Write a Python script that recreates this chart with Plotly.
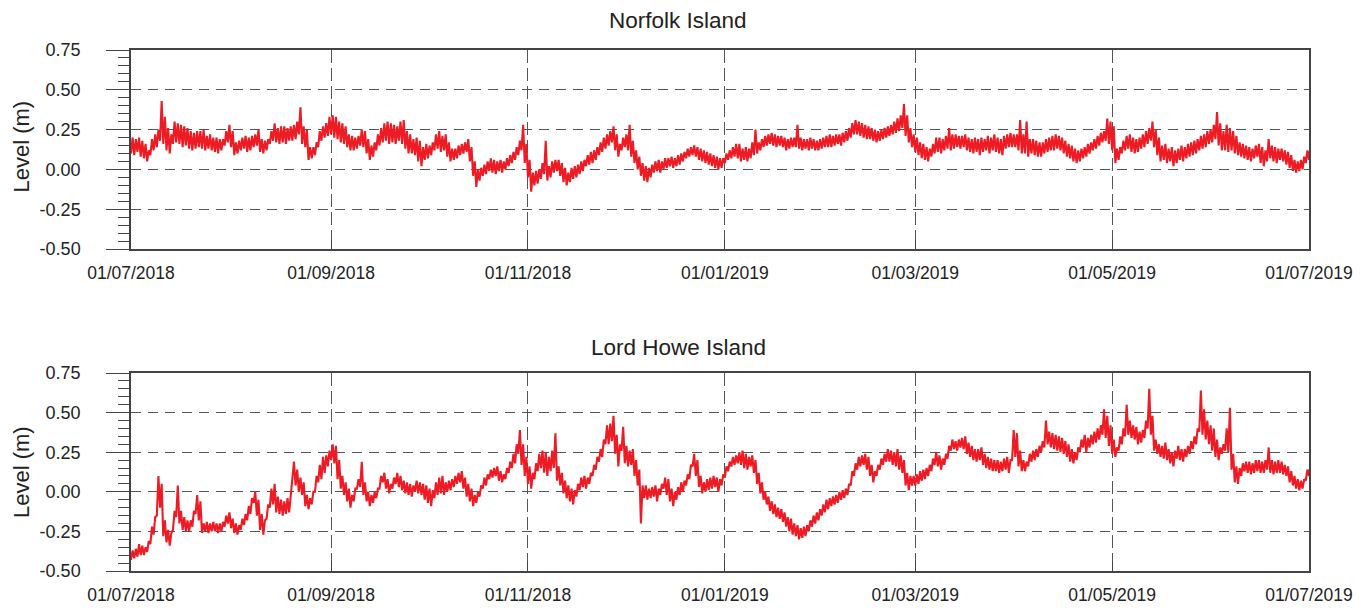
import pandas as pd
import plotly.graph_objects as go

# Daily sea-level residual envelopes (m), one low and one high reading per day,
# day 0 = 01/07/2018 ... day 365 = 01/07/2019.
norfolk_lo = [
    # Jul 2018
    0.10, 0.09, 0.11, 0.08, 0.07, 0.05, 0.09, 0.12, 0.14, 0.18, 0.16, 0.12, 0.10, 0.16, 0.17, 0.16,
    0.14, 0.15, 0.13, 0.12, 0.13, 0.14, 0.13, 0.12, 0.13, 0.12, 0.11, 0.10, 0.12, 0.15, 0.17,
    # Aug 2018
    0.14, 0.09, 0.10, 0.12, 0.13, 0.11, 0.12, 0.14, 0.15, 0.11, 0.10, 0.12, 0.16, 0.18, 0.17, 0.16,
    0.17, 0.16, 0.18, 0.18, 0.19, 0.22, 0.16, 0.14, 0.06, 0.07, 0.09, 0.14, 0.18, 0.20, 0.21,
    # Sep 2018
    0.22, 0.20, 0.19, 0.17, 0.16, 0.14, 0.12, 0.12, 0.13, 0.15, 0.14, 0.10, 0.06, 0.08, 0.12,
    0.15, 0.17, 0.18, 0.16, 0.17, 0.16, 0.18, 0.16, 0.13, 0.10, 0.10, 0.09, 0.05, 0.02, 0.06,
    # Oct 2018
    0.07, 0.09, 0.12, 0.13, 0.11, 0.12, 0.08, 0.05, 0.06, 0.07, 0.09, 0.10, 0.11, 0.05, -0.04, -0.11,
    -0.07, -0.04, -0.03, -0.01, -0.02, -0.03, -0.01, -0.02, 0.00, 0.02, 0.04, 0.06, 0.09, 0.12, 0.04,
    # Nov 2018
    -0.05, -0.14, -0.10, -0.09, -0.06, -0.03, -0.07, -0.05, -0.02, -0.01, -0.04, -0.08, -0.10, -0.08, -0.06,
    -0.05, -0.03, -0.01, 0.02, 0.03, 0.04, 0.06, 0.09, 0.11, 0.13, 0.15, 0.17, 0.12, 0.08, 0.12,
    # Dec 2018
    0.14, 0.12, 0.08, 0.04, 0.00, -0.04, -0.07, -0.08, -0.05, -0.02, -0.01, -0.02, 0.00, 0.01, 0.02, 0.01,
    0.02, 0.03, 0.05, 0.07, 0.08, 0.09, 0.08, 0.06, 0.05, 0.04, 0.03, 0.02, 0.01, 0.00, 0.01,
    # Jan 2019
    0.04, 0.06, 0.07, 0.08, 0.07, 0.05, 0.06, 0.05, 0.07, 0.09, 0.10, 0.12, 0.14, 0.15, 0.16, 0.15,
    0.14, 0.15, 0.14, 0.12, 0.13, 0.14, 0.14, 0.13, 0.12, 0.13, 0.12, 0.13, 0.12, 0.12, 0.13,
    # Feb 2019
    0.14, 0.14, 0.14, 0.15, 0.16, 0.15, 0.17, 0.18, 0.20, 0.22, 0.22, 0.21, 0.20, 0.19,
    0.19, 0.18, 0.17, 0.18, 0.19, 0.20, 0.21, 0.22, 0.23, 0.24, 0.26, 0.21, 0.17, 0.14,
    # Mar 2019
    0.11, 0.09, 0.07, 0.06, 0.05, 0.08, 0.10, 0.11, 0.10, 0.12, 0.13, 0.12, 0.13, 0.14, 0.13, 0.14,
    0.12, 0.11, 0.10, 0.11, 0.09, 0.11, 0.12, 0.10, 0.12, 0.11, 0.10, 0.09, 0.13, 0.14, 0.14,
    # Apr 2019
    0.14, 0.12, 0.10, 0.10, 0.08, 0.10, 0.09, 0.08, 0.08, 0.10, 0.11, 0.12, 0.12, 0.13, 0.12,
    0.10, 0.08, 0.07, 0.05, 0.04, 0.05, 0.07, 0.08, 0.10, 0.12, 0.13, 0.15, 0.17, 0.18, 0.16,
    # May 2019
    0.12, 0.04, 0.06, 0.10, 0.12, 0.13, 0.11, 0.10, 0.11, 0.13, 0.14, 0.16, 0.18, 0.14, 0.09, 0.05,
    0.06, 0.04, 0.05, 0.02, 0.04, 0.06, 0.05, 0.07, 0.08, 0.09, 0.10, 0.12, 0.13, 0.14, 0.16,
    # Jun 2019
    0.17, 0.19, 0.15, 0.12, 0.12, 0.11, 0.12, 0.10, 0.09, 0.08, 0.07, 0.06, 0.05, 0.07, 0.08,
    0.04, 0.02, 0.05, 0.07, 0.05, 0.04, 0.06, 0.05, 0.03, 0.01, -0.01, -0.02, -0.01, 0.00, 0.04,
    # 01/07/2019
    0.06,
]
norfolk_hi = [
    0.20, 0.19, 0.20, 0.18, 0.16, 0.12, 0.19, 0.22, 0.25, 0.43, 0.33, 0.26, 0.22, 0.30, 0.29, 0.28,
    0.27, 0.26, 0.24, 0.23, 0.24, 0.24, 0.25, 0.21, 0.22, 0.20, 0.20, 0.19, 0.19, 0.24, 0.28,
    0.24, 0.17, 0.18, 0.20, 0.21, 0.20, 0.21, 0.22, 0.25, 0.19, 0.18, 0.19, 0.24, 0.29, 0.26, 0.27,
    0.27, 0.26, 0.27, 0.28, 0.30, 0.39, 0.27, 0.25, 0.14, 0.14, 0.17, 0.24, 0.27, 0.29, 0.33,
    0.34, 0.33, 0.30, 0.29, 0.27, 0.22, 0.21, 0.20, 0.21, 0.25, 0.24, 0.19, 0.15, 0.17, 0.22,
    0.26, 0.29, 0.30, 0.29, 0.28, 0.27, 0.30, 0.31, 0.24, 0.22, 0.19, 0.20, 0.18, 0.14, 0.16,
    0.15, 0.17, 0.22, 0.24, 0.21, 0.22, 0.17, 0.13, 0.13, 0.15, 0.16, 0.17, 0.19, 0.14, 0.05, 0.00,
    0.01, 0.03, 0.05, 0.07, 0.06, 0.05, 0.06, 0.05, 0.07, 0.09, 0.11, 0.14, 0.18, 0.28, 0.16,
    0.06, -0.02, -0.01, 0.00, 0.04, 0.18, 0.02, 0.05, 0.06, 0.06, 0.04, 0.01, -0.02, 0.01, 0.02,
    0.03, 0.05, 0.06, 0.09, 0.11, 0.12, 0.14, 0.17, 0.20, 0.22, 0.24, 0.27, 0.22, 0.16, 0.20,
    0.22, 0.28, 0.18, 0.12, 0.08, 0.04, 0.02, 0.01, 0.03, 0.05, 0.06, 0.05, 0.07, 0.07, 0.08, 0.07,
    0.09, 0.10, 0.11, 0.13, 0.14, 0.15, 0.14, 0.13, 0.12, 0.11, 0.10, 0.09, 0.08, 0.07, 0.07,
    0.10, 0.12, 0.14, 0.16, 0.16, 0.13, 0.14, 0.13, 0.17, 0.25, 0.17, 0.19, 0.21, 0.22, 0.23, 0.22,
    0.21, 0.21, 0.20, 0.19, 0.20, 0.20, 0.28, 0.20, 0.19, 0.19, 0.20, 0.19, 0.18, 0.19, 0.20,
    0.21, 0.22, 0.21, 0.22, 0.22, 0.23, 0.24, 0.26, 0.29, 0.31, 0.30, 0.29, 0.28, 0.27,
    0.26, 0.25, 0.24, 0.25, 0.26, 0.27, 0.28, 0.30, 0.32, 0.34, 0.41, 0.34, 0.26, 0.22,
    0.20, 0.17, 0.16, 0.14, 0.13, 0.16, 0.20, 0.20, 0.19, 0.21, 0.26, 0.22, 0.22, 0.21, 0.21, 0.22,
    0.20, 0.19, 0.20, 0.19, 0.20, 0.19, 0.21, 0.20, 0.22, 0.20, 0.19, 0.21, 0.22, 0.23, 0.22,
    0.22, 0.31, 0.22, 0.30, 0.19, 0.19, 0.18, 0.17, 0.17, 0.19, 0.20, 0.21, 0.22, 0.21, 0.20,
    0.18, 0.16, 0.15, 0.13, 0.12, 0.13, 0.14, 0.16, 0.17, 0.19, 0.21, 0.23, 0.24, 0.32, 0.30,
    0.27, 0.13, 0.14, 0.18, 0.21, 0.22, 0.20, 0.19, 0.20, 0.22, 0.24, 0.26, 0.30, 0.25, 0.20, 0.15,
    0.16, 0.13, 0.14, 0.12, 0.13, 0.15, 0.14, 0.16, 0.17, 0.18, 0.19, 0.21, 0.22, 0.24, 0.25,
    0.28, 0.36, 0.29, 0.24, 0.28, 0.26, 0.24, 0.21, 0.17, 0.16, 0.15, 0.14, 0.13, 0.15, 0.16,
    0.14, 0.12, 0.19, 0.15, 0.14, 0.13, 0.13, 0.12, 0.11, 0.09, 0.06, 0.05, 0.06, 0.08, 0.12,
    0.15,
]

lordhowe_lo = [
    # Jul 2018
    -0.43, -0.42, -0.41, -0.40, -0.40, -0.38, -0.33, -0.27, -0.15, -0.10, -0.28, -0.32, -0.34, -0.24, -0.16, -0.20,
    -0.24, -0.25, -0.25, -0.22, -0.14, -0.18, -0.26, -0.25, -0.26, -0.25, -0.25, -0.26, -0.25, -0.22, -0.20,
    # Aug 2018
    -0.23, -0.26, -0.27, -0.24, -0.21, -0.18, -0.14, -0.07, -0.15, -0.24, -0.27, -0.17, -0.10, -0.08, -0.13, -0.14,
    -0.15, -0.14, -0.13, 0.08, 0.04, 0.00, -0.02, -0.09, -0.11, -0.08, 0.00, 0.06, 0.08, 0.12, 0.16,
    # Sep 2018
    0.20, 0.18, 0.08, 0.02, -0.02, -0.06, -0.10, -0.06, 0.02, 0.03, -0.02, -0.06, -0.09, -0.07, -0.04,
    0.02, 0.06, 0.02, -0.01, 0.02, 0.05, 0.03, 0.01, -0.01, -0.02, -0.03, 0.00, -0.01, -0.02, -0.05,
    # Oct 2018
    -0.07, -0.09, -0.04, -0.02, -0.01, -0.02, 0.00, 0.01, 0.03, 0.05, 0.06, 0.02, -0.03, -0.06, -0.09, -0.07,
    -0.03, 0.02, 0.04, 0.08, 0.09, 0.10, 0.07, 0.06, 0.08, 0.12, 0.15, 0.18, 0.24, 0.17, 0.10,
    # Nov 2018
    0.05, 0.02, 0.08, 0.13, 0.15, 0.12, 0.10, 0.13, 0.15, 0.07, 0.04, -0.01, -0.04, -0.06, -0.08,
    -0.03, 0.01, 0.03, 0.02, 0.05, 0.10, 0.14, 0.19, 0.22, 0.30, 0.30, 0.32, 0.24, 0.16, 0.26,
    # Dec 2018
    0.18, 0.16, 0.17, 0.10, 0.04, -0.20, -0.04, -0.05, -0.04, -0.03, -0.06, -0.02, 0.02, -0.02, -0.06, -0.09,
    -0.05, -0.02, 0.00, 0.04, 0.08, 0.16, 0.10, 0.03, -0.01, 0.00, 0.01, 0.02, 0.03, 0.00, 0.04,
    # Jan 2019
    0.09, 0.13, 0.16, 0.17, 0.18, 0.17, 0.15, 0.14, 0.16, 0.12, 0.05, -0.01, -0.05, -0.08, -0.12, -0.14,
    -0.16, -0.17, -0.19, -0.22, -0.25, -0.27, -0.28, -0.30, -0.29, -0.28, -0.25, -0.22, -0.20, -0.18, -0.15,
    # Feb 2019
    -0.13, -0.11, -0.09, -0.08, -0.07, -0.05, -0.04, -0.02, 0.04, 0.10, 0.14, 0.16, 0.17, 0.14,
    0.10, 0.06, 0.10, 0.14, 0.17, 0.19, 0.19, 0.17, 0.16, 0.14, 0.12, 0.04, 0.01, 0.04,
    # Mar 2019
    0.04, 0.05, 0.07, 0.08, 0.10, 0.13, 0.17, 0.16, 0.14, 0.17, 0.21, 0.26, 0.27, 0.26, 0.28, 0.27,
    0.24, 0.22, 0.20, 0.19, 0.20, 0.17, 0.15, 0.14, 0.13, 0.13, 0.12, 0.13, 0.14, 0.12, 0.20,
    # Apr 2019
    0.22, 0.16, 0.13, 0.13, 0.16, 0.19, 0.20, 0.22, 0.25, 0.28, 0.30, 0.28, 0.27, 0.26, 0.25,
    0.24, 0.22, 0.19, 0.18, 0.20, 0.25, 0.28, 0.25, 0.28, 0.30, 0.31, 0.33, 0.36, 0.34, 0.29,
    # May 2019
    0.24, 0.22, 0.26, 0.30, 0.35, 0.36, 0.34, 0.33, 0.30, 0.31, 0.34, 0.40, 0.36, 0.26, 0.24, 0.22,
    0.21, 0.20, 0.18, 0.16, 0.21, 0.20, 0.19, 0.22, 0.24, 0.27, 0.30, 0.38, 0.36, 0.33, 0.30,
    # Jun 2019
    0.26, 0.22, 0.20, 0.24, 0.26, 0.25, 0.14, 0.06, 0.05, 0.10, 0.13, 0.12, 0.11, 0.12, 0.13,
    0.12, 0.12, 0.14, 0.12, 0.11, 0.12, 0.12, 0.11, 0.10, 0.06, 0.04, 0.02, 0.01, 0.02, 0.07,
    # 01/07/2019
    0.10,
]
lordhowe_hi = [
    -0.37, -0.36, -0.33, -0.34, -0.35, -0.31, -0.22, -0.16, 0.10, 0.05, -0.18, -0.24, -0.26, -0.12, 0.04, -0.12,
    -0.16, -0.18, -0.18, -0.12, -0.02, -0.06, -0.20, -0.19, -0.20, -0.19, -0.20, -0.20, -0.19, -0.15, -0.13,
    -0.17, -0.20, -0.21, -0.17, -0.14, -0.09, -0.04, 0.00, -0.05, -0.14, -0.18, -0.08, 0.02, 0.05, -0.03, -0.05,
    -0.06, -0.04, -0.03, 0.19, 0.14, 0.09, 0.06, -0.02, -0.04, 0.00, 0.10, 0.17, 0.22, 0.23, 0.26,
    0.30, 0.29, 0.20, 0.10, 0.06, 0.02, -0.02, 0.02, 0.08, 0.19, 0.06, 0.00, -0.02, 0.00, 0.02,
    0.10, 0.12, 0.08, 0.05, 0.09, 0.12, 0.10, 0.07, 0.06, 0.05, 0.04, 0.07, 0.06, 0.05, 0.04,
    0.02, 0.01, 0.06, 0.09, 0.10, 0.06, 0.07, 0.08, 0.10, 0.12, 0.13, 0.09, 0.05, 0.02, -0.02, 0.00,
    0.04, 0.09, 0.11, 0.14, 0.15, 0.16, 0.13, 0.11, 0.15, 0.19, 0.24, 0.30, 0.39, 0.30, 0.22,
    0.16, 0.12, 0.18, 0.24, 0.26, 0.25, 0.22, 0.26, 0.37, 0.16, 0.12, 0.07, 0.04, 0.02, 0.01,
    0.05, 0.09, 0.10, 0.09, 0.12, 0.17, 0.22, 0.27, 0.33, 0.42, 0.43, 0.48, 0.36, 0.30, 0.41,
    0.29, 0.26, 0.27, 0.20, 0.14, 0.04, 0.04, 0.02, 0.03, 0.04, 0.02, 0.05, 0.09, 0.08, 0.02, 0.00,
    0.03, 0.06, 0.07, 0.11, 0.17, 0.24, 0.20, 0.10, 0.06, 0.08, 0.09, 0.10, 0.09, 0.08, 0.11,
    0.16, 0.19, 0.22, 0.23, 0.25, 0.26, 0.24, 0.22, 0.23, 0.20, 0.12, 0.06, 0.00, -0.03, -0.06, -0.08,
    -0.10, -0.11, -0.13, -0.16, -0.17, -0.20, -0.21, -0.23, -0.22, -0.21, -0.18, -0.15, -0.13, -0.11, -0.08,
    -0.05, -0.04, -0.03, -0.02, 0.00, 0.01, 0.02, 0.05, 0.13, 0.18, 0.22, 0.23, 0.24, 0.22,
    0.17, 0.13, 0.17, 0.21, 0.24, 0.27, 0.26, 0.25, 0.27, 0.23, 0.20, 0.12, 0.10, 0.10,
    0.11, 0.13, 0.14, 0.15, 0.17, 0.21, 0.25, 0.23, 0.21, 0.24, 0.29, 0.33, 0.32, 0.33, 0.34, 0.35,
    0.31, 0.29, 0.27, 0.27, 0.28, 0.24, 0.22, 0.21, 0.20, 0.20, 0.19, 0.21, 0.22, 0.20, 0.39,
    0.37, 0.26, 0.20, 0.19, 0.24, 0.26, 0.27, 0.29, 0.32, 0.45, 0.38, 0.37, 0.36, 0.35, 0.34,
    0.32, 0.30, 0.27, 0.25, 0.28, 0.33, 0.36, 0.34, 0.36, 0.38, 0.40, 0.42, 0.52, 0.48, 0.42,
    0.33, 0.28, 0.35, 0.40, 0.55, 0.45, 0.42, 0.41, 0.38, 0.39, 0.45, 0.65, 0.48, 0.33, 0.30, 0.29,
    0.31, 0.27, 0.25, 0.26, 0.29, 0.27, 0.27, 0.29, 0.32, 0.35, 0.40, 0.64, 0.52, 0.45, 0.42,
    0.40, 0.33, 0.28, 0.30, 0.40, 0.53, 0.24, 0.16, 0.15, 0.18, 0.19, 0.19, 0.18, 0.20, 0.20,
    0.19, 0.20, 0.28, 0.20, 0.19, 0.20, 0.19, 0.17, 0.16, 0.13, 0.10, 0.08, 0.07, 0.08, 0.14,
    0.18,
]

station_names = ["Norfolk Island", "Lord Howe Island"]
tick_dates = ["2018-07-01", "2018-09-01", "2018-11-01", "2019-01-01",
              "2019-03-01", "2019-05-01", "2019-07-01"]
tick_labels = ["01/07/2018", "01/09/2018", "01/11/2018", "01/01/2019",
               "01/03/2019", "01/05/2019", "01/07/2019"]
level_ticks = [-0.5, -0.25, 0.0, 0.25, 0.5, 0.75]
level_labels = ["-0.50", "-0.25", "0.00", "0.25", "0.50", "0.75"]
start_date = pd.Timestamp("2018-07-01")


def interleave(lo, hi):
    """Alternate each day's low and high reading (low at 00:00, high at 12:00)."""
    xs, ys = [], []
    for d, (a, b) in enumerate(zip(lo, hi)):
        xs.append(start_date + pd.Timedelta(days=d))
        ys.append(a)
        xs.append(start_date + pd.Timedelta(days=d, hours=12))
        ys.append(b)
    return xs, ys


FONT = "Arial, Liberation Sans, Helvetica, sans-serif"
TEXT = "#222222"
FRAME = "#444444"
GRID = "#555555"
RED = "#ED1C24"

fig = go.Figure()
for i, (lo, hi) in enumerate([(norfolk_lo, norfolk_hi), (lordhowe_lo, lordhowe_hi)]):
    xs, ys = interleave(lo, hi)
    suffix = "" if i == 0 else "2"
    fig.add_trace(go.Scatter(
        x=xs, y=ys, mode="lines",
        line=dict(color=RED, width=2.1),
        xaxis="x" + suffix, yaxis="y" + suffix,
        name=station_names[i], hoverinfo="x+y",
    ))

W, H = 1370, 609
M_L, M_R, M_T, M_B = 131, 61, 50, 38
plot_h = H - M_T - M_B

top_dom = [1 - 199 / plot_h, 1.0]
bot_dom = [0.0, 198 / plot_h]


def xaxis_cfg(anchor):
    return dict(
        type="date", range=["2018-07-01", "2019-07-01"], anchor=anchor,
        domain=[0, 1], automargin=False,
        tickmode="array", tickvals=tick_dates, ticktext=tick_labels,
        ticks="inside", ticklen=10, tickwidth=1, tickcolor=FRAME,
        showline=True, linecolor=FRAME, linewidth=1.5, mirror=True,
        showgrid=True, gridcolor=GRID, gridwidth=1, griddash="13px,5px",
        tickfont=dict(family=FONT, size=17.5, color=TEXT),
        ticklabelstandoff=7, zeroline=False,
    )


def yaxis_cfg(anchor, dom):
    return dict(
        domain=dom, anchor=anchor, range=[-0.5, 0.75], automargin=False,
        tickmode="array", tickvals=level_ticks, ticktext=level_labels,
        ticks="outside", ticklen=23, tickwidth=1, tickcolor=FRAME,
        minor=dict(ticks="outside", ticklen=11, dtick=0.05, tick0=0,
                   tickcolor=FRAME, tickwidth=1, showgrid=False),
        showline=True, linecolor=FRAME, linewidth=1.5, mirror=True,
        showgrid=True, gridcolor=GRID, gridwidth=1, griddash="10px,7px",
        tickfont=dict(family=FONT, size=18, color=TEXT),
        ticklabelstandoff=22, zeroline=False,
    )


fig.update_layout(
    width=W, height=H,
    margin=dict(l=M_L, r=M_R, t=M_T, b=M_B, autoexpand=False),
    paper_bgcolor="white", plot_bgcolor="white",
    showlegend=False,
    xaxis=xaxis_cfg("y"),
    yaxis=yaxis_cfg("x", top_dom),
    xaxis2=xaxis_cfg("y2"),
    yaxis2=yaxis_cfg("x2", bot_dom),
)

title_x = (678 - M_L) / (W - M_L - M_R)
ylab_x = (21 - M_L) / (W - M_L - M_R)
annotations = []
for name, dom, shift, lab_shift in [(station_names[0], top_dom, 30, 3),
                                    (station_names[1], bot_dom, 26, 0)]:
    annotations.append(dict(
        text=name, xref="paper", yref="paper", x=title_x, y=dom[1],
        yshift=shift, xanchor="center", yanchor="middle", showarrow=False,
        font=dict(family=FONT, size=22.5, color=TEXT),
    ))
    annotations.append(dict(
        text="Level (m)", xref="paper", yref="paper", x=ylab_x,
        y=(dom[0] + dom[1]) / 2, yshift=lab_shift, xanchor="center", yanchor="middle",
        textangle=-90, showarrow=False,
        font=dict(family=FONT, size=22, color=TEXT),
    ))
fig.update_layout(annotations=annotations)

fig.write_html("out.html")
